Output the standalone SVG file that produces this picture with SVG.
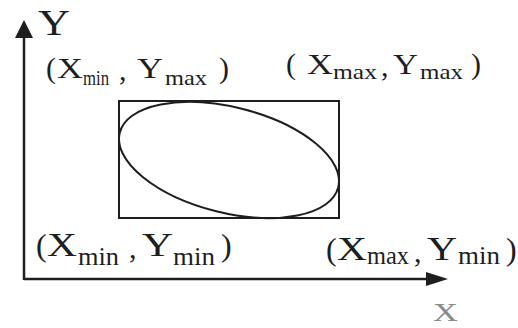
<svg xmlns="http://www.w3.org/2000/svg" width="518" height="328" viewBox="0 0 518 328">
<style>
text{font-family:"Liberation Serif","Times New Roman",serif;fill:#1e1e1e}
.m{font-size:30px}
.s{font-size:22px}
.ax{stroke:#1e1e1e;stroke-width:2.5;fill:none}
.sh{stroke:#1e1e1e;stroke-width:2;fill:none}
</style>
<rect width="518" height="328" fill="#fff"/>
<g id="connectors">
<path class="ax" d="M24,280 L24,36"/>
<path d="M15,38 L24,20 L33,38 Z" fill="#1e1e1e"/>
<path class="ax" d="M24,279 L430,279"/>
<path d="M426,272 L448,279 L426,286 Z" fill="#1e1e1e"/>
</g>
<g id="rect-node">
<rect class="sh" x="119" y="101" width="220" height="117"/>
</g>
<g id="ellipse-node">
<ellipse class="sh" cx="229" cy="160" rx="112.6" ry="52.8" transform="rotate(14 229 160)"/>
</g>
<g id="y-label">
<text x="38" y="35" font-size="36" textLength="32" lengthAdjust="spacingAndGlyphs">Y</text>
</g>
<g id="x-label">
<text x="433" y="321" font-size="26" style="fill:#8a8a8a" textLength="25" lengthAdjust="spacingAndGlyphs">X</text>
</g>
<g id="label-tl">
<text class="m" x="46" y="78">(</text>
<text class="m" x="57" y="78" textLength="26" lengthAdjust="spacingAndGlyphs">X</text>
<text class="s" x="83" y="85" textLength="26" lengthAdjust="spacingAndGlyphs">min</text>
<text class="m" x="119" y="80">,</text>
<text class="m" x="137" y="78" textLength="26" lengthAdjust="spacingAndGlyphs">Y</text>
<text class="s" x="165" y="85" textLength="42" lengthAdjust="spacingAndGlyphs">max</text>
<text class="m" x="219" y="78">)</text>
</g>
<g id="label-tr">
<text class="m" x="286" y="74">(</text>
<text class="m" x="307" y="74" textLength="26" lengthAdjust="spacingAndGlyphs">X</text>
<text class="s" x="333" y="79" textLength="44" lengthAdjust="spacingAndGlyphs">max</text>
<text class="m" x="381" y="76">,</text>
<text class="m" x="393" y="74" textLength="25" lengthAdjust="spacingAndGlyphs">Y</text>
<text class="s" x="420" y="79" textLength="43" lengthAdjust="spacingAndGlyphs">max</text>
<text class="m" x="471" y="74">)</text>
</g>
<g id="label-bl">
<text class="m" x="36" y="256" style="font-size:32px">(</text>
<text class="m" x="47" y="256" style="font-size:33px" textLength="30" lengthAdjust="spacingAndGlyphs">X</text>
<text class="s" x="78" y="265" style="font-size:25px" textLength="41" lengthAdjust="spacingAndGlyphs">min</text>
<text class="m" x="129" y="258">,</text>
<text class="m" x="142" y="256" style="font-size:33px" textLength="31" lengthAdjust="spacingAndGlyphs">Y</text>
<text class="s" x="173" y="265" style="font-size:25px" textLength="42" lengthAdjust="spacingAndGlyphs">min</text>
<text class="m" x="221" y="256" style="font-size:32px">)</text>
</g>
<g id="label-br">
<text class="m" x="326" y="260" style="font-size:32px">(</text>
<text class="m" x="337" y="260" style="font-size:33px" textLength="30" lengthAdjust="spacingAndGlyphs">X</text>
<text class="s" x="367" y="264" style="font-size:25px" textLength="42" lengthAdjust="spacingAndGlyphs">max</text>
<text class="m" x="414" y="262">,</text>
<text class="m" x="427" y="260" style="font-size:33px" textLength="30" lengthAdjust="spacingAndGlyphs">Y</text>
<text class="s" x="458" y="264" style="font-size:25px" textLength="42" lengthAdjust="spacingAndGlyphs">min</text>
<text class="m" x="506" y="260" style="font-size:32px">)</text>
</g>
</svg>
